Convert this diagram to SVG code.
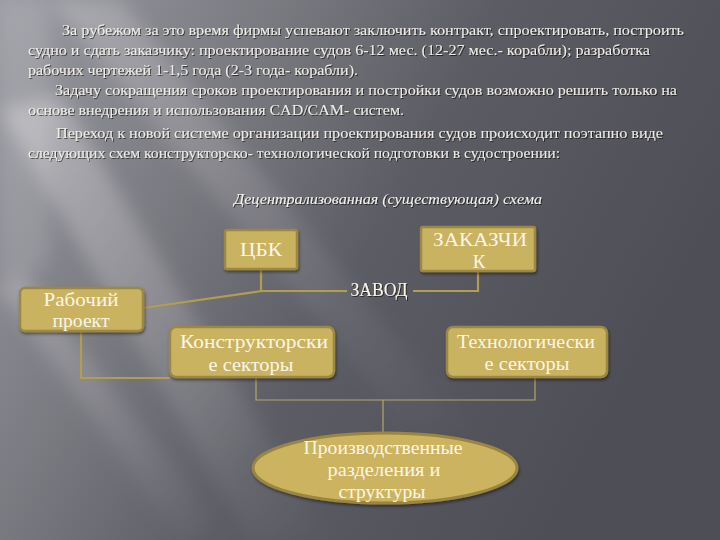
<svg xmlns="http://www.w3.org/2000/svg" width="720" height="540" viewBox="0 0 720 540">
<defs>
<linearGradient id="bg" x1="0" y1="0" x2="1" y2="0.4">
<stop offset="0" stop-color="#9a9aa2"/>
<stop offset="0.35" stop-color="#78787f"/>
<stop offset="0.6" stop-color="#5c5c64"/>
<stop offset="1" stop-color="#4e4e56"/>
</linearGradient>
<linearGradient id="ray" x1="0" y1="0" x2="1" y2="1">
<stop offset="0" stop-color="#ffffff" stop-opacity="0.4"/>
<stop offset="1" stop-color="#ffffff" stop-opacity="0"/>
</linearGradient>
<filter id="blur" x="-20%" y="-20%" width="140%" height="140%">
<feGaussianBlur stdDeviation="9"/>
</filter>
<filter id="sh" x="-10%" y="-10%" width="130%" height="140%">
<feDropShadow dx="1" dy="2" stdDeviation="1.5" flood-color="#000" flood-opacity="0.45"/>
</filter>
<filter id="tsh" x="-5%" y="-20%" width="110%" height="150%">
<feDropShadow dx="1" dy="1" stdDeviation="0.6" flood-color="#000" flood-opacity="0.6"/>
</filter>
</defs>
<style>
.box{fill:#c9b260;stroke:#9c8840;stroke-width:2.5}
.para{font-family:"Liberation Serif",serif;font-size:14.5px;fill:#eeece6}
.lbl{font-family:"Liberation Serif",serif;font-size:19px;fill:#fbf6e6;text-anchor:middle}
.con{fill:none;stroke:#b39d4e;stroke-width:2.2}
.con2{fill:none;stroke:#b5a66a;stroke-width:1.2}
</style>
<rect x="0" y="0" width="720" height="540" fill="url(#bg)"/>
<g filter="url(#blur)">
<polygon points="0,110 60,95 330,540 250,540" fill="url(#ray)" opacity="0.8"/>
<polygon points="50,0 120,0 470,430 410,430" fill="url(#ray)" opacity="0.55"/>
<polygon points="0,290 25,275 230,540 180,540" fill="url(#ray)" opacity="0.55"/>
<polygon points="0,0 50,0 50,260 0,300" fill="#ffffff" opacity="0.12"/>
</g>

<g id="paragraph" filter="url(#tsh)">
<text class="para" x="62" y="35" textLength="622" lengthAdjust="spacingAndGlyphs">За рубежом за это время фирмы успевают заключить контракт, спроектировать, построить</text>
<text class="para" x="28" y="55" textLength="622" lengthAdjust="spacingAndGlyphs">судно и сдать заказчику: проектирование судов 6-12 мес. (12-27 мес.- корабли); разработка</text>
<text class="para" x="28" y="75" textLength="330" lengthAdjust="spacingAndGlyphs">рабочих чертежей 1-1,5 года (2-3 года- корабли).</text>
<text class="para" x="55" y="95" textLength="622" lengthAdjust="spacingAndGlyphs">Задачу сокращения сроков проектирования и постройки судов возможно решить только на</text>
<text class="para" x="28" y="115" textLength="376" lengthAdjust="spacingAndGlyphs">основе внедрения и использования CAD/CAM- систем.</text>
<text class="para" x="56" y="138" textLength="607" lengthAdjust="spacingAndGlyphs">Переход к новой системе организации проектирования судов происходит поэтапно виде</text>
<text class="para" x="28" y="158" textLength="532" lengthAdjust="spacingAndGlyphs">следующих схем конструкторско- технологической подготовки в судостроении:</text>
</g>

<g id="title" filter="url(#tsh)">
<text x="388" y="204" text-anchor="middle" font-family="Liberation Serif, serif" font-style="italic" font-size="14px" fill="#f4f2ee" textLength="308" lengthAdjust="spacingAndGlyphs">Децентрализованная (существующая) схема</text>
</g>

<g id="connectors">
<path class="con" d="M261,269 V291"/>
<path class="con" d="M143,308 L262,291 H347"/>
<path class="con" d="M413,291 H478 V271"/>
<path class="con" d="M81,331 V378 H170"/>
<path class="con2" d="M256,377 V400 H535 V377"/>
<path class="con2" d="M383,400 V433"/>
</g>

<g id="zavod" filter="url(#tsh)">
<text class="lbl" x="379" y="296" font-size="17px" textLength="57" lengthAdjust="spacingAndGlyphs">ЗАВОД</text>
</g>

<g id="node-cbk">
<rect class="box" x="225" y="230" width="72" height="39" rx="2" filter="url(#sh)"/>
<text class="lbl" x="261" y="256" textLength="42" lengthAdjust="spacingAndGlyphs">ЦБК</text>
</g>

<g id="node-zakazchik">
<rect class="box" x="421" y="227" width="114" height="44" rx="2" filter="url(#sh)"/>
<text class="lbl" x="480" y="246" textLength="94" lengthAdjust="spacingAndGlyphs">ЗАКАЗЧИ</text>
<text class="lbl" x="479" y="268">К</text>
</g>

<g id="node-rabochiy">
<rect class="box" x="20" y="288" width="123" height="43" rx="5" filter="url(#sh)"/>
<text class="lbl" x="81" y="306" textLength="75" lengthAdjust="spacingAndGlyphs">Рабочий</text>
<text class="lbl" x="81" y="327" textLength="57" lengthAdjust="spacingAndGlyphs">проект</text>
</g>

<g id="node-konstr">
<rect class="box" x="170" y="327" width="164" height="50" rx="6" filter="url(#sh)"/>
<text class="lbl" x="254" y="348" textLength="148" lengthAdjust="spacingAndGlyphs">Конструкторски</text>
<text class="lbl" x="251" y="371" textLength="85" lengthAdjust="spacingAndGlyphs">е секторы</text>
</g>

<g id="node-tehn">
<rect class="box" x="447" y="327" width="160" height="50" rx="6" filter="url(#sh)"/>
<text class="lbl" x="526" y="348" textLength="138" lengthAdjust="spacingAndGlyphs">Технологически</text>
<text class="lbl" x="527" y="370" textLength="85" lengthAdjust="spacingAndGlyphs">е секторы</text>
</g>

<g id="node-proizv">
<ellipse cx="385" cy="468" rx="132" ry="35" fill="#cbb35e" stroke="#9a8640" stroke-width="3" filter="url(#sh)"/>
<text class="lbl" x="383" y="454" textLength="159" lengthAdjust="spacingAndGlyphs">Производственные</text>
<text class="lbl" x="384" y="476" textLength="113" lengthAdjust="spacingAndGlyphs">разделения и</text>
<text class="lbl" x="382" y="498" textLength="87" lengthAdjust="spacingAndGlyphs">структуры</text>
</g>
</svg>
